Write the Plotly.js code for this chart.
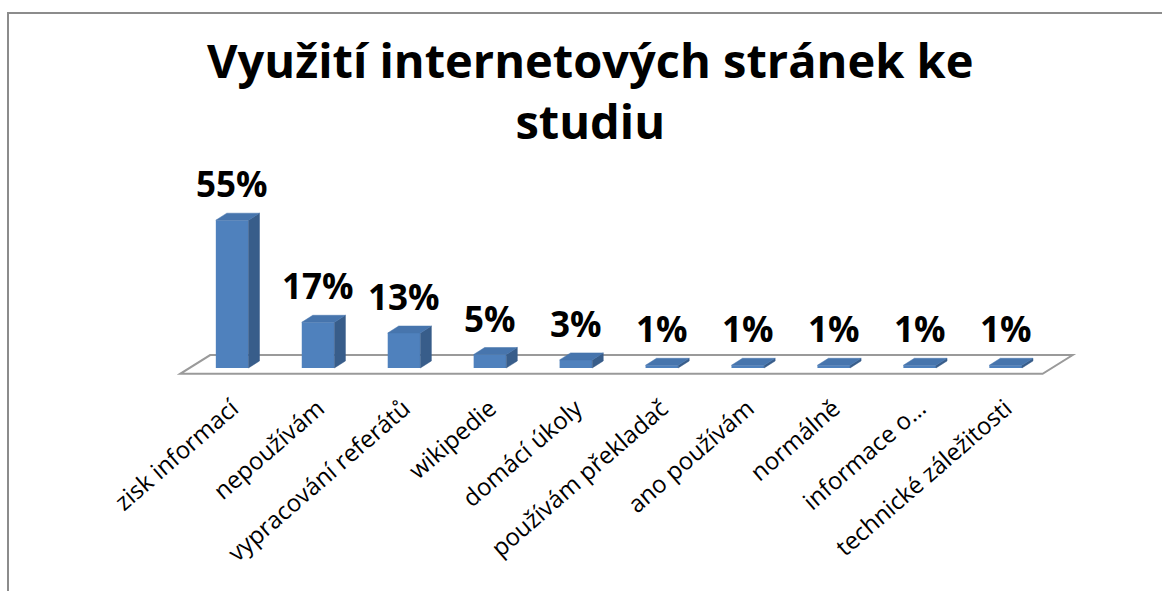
<!DOCTYPE html>
<html>
<head>
<meta charset="utf-8">
<script src="https://cdn.plot.ly/plotly-3.0.1.min.js"></script>
<style>
  html, body { margin: 0; padding: 0; background: #fff; }
  #wrap { position: relative; width: 1162px; height: 591px; overflow: hidden; }
  #chart { position: absolute; left: 0; top: 0; width: 1162px; height: 591px; }
  #frame { position: absolute; left: 7px; top: 12px; width: 1200px; height: 700px;
           border-left: 2px solid #8c8c8c; border-top: 2px solid #8c8c8c; pointer-events: none; }
</style>
</head>
<body>
<div id="wrap">
  <div id="chart"></div>
  <div id="frame"></div>
</div>
<script>
const categories = ["zisk informací", "nepoužívám", "vypracování referátů", "wikipedie",
  "domácí úkoly", "používám překladač", "ano používám", "normálně",
  "informace o…", "technické záležitosti"];
const values = [55, 17, 13, 5, 3, 1, 1, 1, 1, 1];
const labels = ["55%", "17%", "13%", "5%", "3%", "1%", "1%", "1%", "1%", "1%"];

const FONT = "Open Sans, DejaVu Sans, sans-serif";
const BW = 0.38;     // bar width (category units)
const DX = 0.128;    // depth offset x (category units)
const DY = 2.6;      // depth offset y (value units)

const idx = categories.map((_, i) => i);

// side and top faces of the 3D columns, computed from the values
const sideX = [], sideY = [], topX = [], topY = [];
idx.forEach(i => {
  const v = values[i];
  const r = i + BW / 2, l = i - BW / 2;
  sideX.push(r, r + DX, r + DX, r, r, null);
  sideY.push(0, DY, v + DY, v, 0, null);
  topX.push(l, l + DX, r + DX, r, l, null);
  topY.push(v, v + DY, v + DY, v, v, null);
});

const traces = [
  { type: "bar", x: idx, y: values, width: BW,
    marker: { color: "#4F81BD", line: { width: 0 } }, hoverinfo: "skip", showlegend: false },
  { type: "scatter", mode: "lines", x: sideX, y: sideY, fill: "toself",
    fillcolor: "#385D8A", line: { width: 0.5, color: "#385D8A" }, hoverinfo: "skip", showlegend: false },
  { type: "scatter", mode: "lines", x: topX, y: topY, fill: "toself",
    fillcolor: "#4775AD", line: { width: 0.5, color: "#4775AD" }, hoverinfo: "skip", showlegend: false }
];

const annotations = idx.map(i => ({
  x: i, y: values[i], xref: "x", yref: "y", text: labels[i], showarrow: false,
  yanchor: "bottom", xanchor: "center", yshift: 11,
  font: { family: FONT, size: 35, color: "#000", weight: "bold" }
}));

// floor of the 3D plot (decoration)
const fl = { fx0: -0.605, fx1: 9.43, fy: -2.2, bx0: -0.256, bx1: 9.78, by: 4.8 };
const shapes = [{
  type: "path", xref: "x", yref: "y", layer: "below",
  path: `M ${fl.fx0},${fl.fy} L ${fl.fx1},${fl.fy} L ${fl.bx1},${fl.by} L ${fl.bx0},${fl.by} Z`,
  line: { color: "#9a9a9a", width: 2 }, fillcolor: "rgba(0,0,0,0)"
}];

const layout = {
  width: 1162, height: 591,
  margin: { l: 172, r: 79, t: 153, b: 215 },
  paper_bgcolor: "#fff", plot_bgcolor: "rgba(0,0,0,0)",
  title: {
    text: "Využití internetových stránek ke<br>studiu",
    x: 0.508, xref: "container", xanchor: "center",
    y: 1 - 78 / 591, yref: "container", yanchor: "top",
    font: { family: FONT, size: 47, color: "#000", weight: "bold" }
  },
  xaxis: {
    range: [-0.7, 9.9], tickvals: idx, ticktext: categories, tickangle: -41,
    showgrid: false, zeroline: false, showline: false,
    ticks: "outside", ticklen: 8, tickcolor: "rgba(0,0,0,0)",
    tickfont: { family: FONT, size: 24, color: "#000" }
  },
  yaxis: {
    range: [-3, 80], showgrid: false, zeroline: false, showline: false,
    showticklabels: false, ticks: ""
  },
  annotations: annotations,
  shapes: shapes,
  showlegend: false
};

Plotly.newPlot("chart", traces, layout, { staticPlot: true, displayModeBar: false });
</script>
</body>
</html>
